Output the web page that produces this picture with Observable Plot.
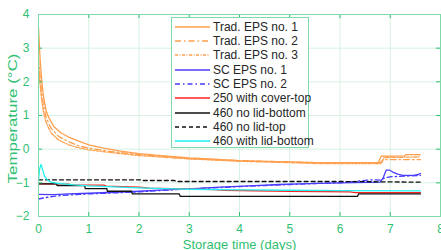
<!DOCTYPE html>
<html><head><meta charset="utf-8">
<script src="https://cdn.jsdelivr.net/npm/d3@7"></script>
<script src="https://cdn.jsdelivr.net/npm/@observablehq/plot@0.6"></script>
<style>
body{margin:0;background:#fff;font-family:"Liberation Sans",Arial,sans-serif;}
#wrap{position:relative;width:441px;height:250px;overflow:hidden;}
#legend{position:absolute;left:171px;top:17px;width:138px;height:131px;background:#fff;border:1px solid #7fd9a8;box-sizing:border-box;}
.row{position:absolute;left:0;height:14px;font-size:12px;color:#262626;line-height:14px;white-space:nowrap;}
.row svg{position:absolute;left:3px;top:0;}
.row span{position:absolute;left:41px;top:0;}
</style></head><body>
<div id="wrap"><div id="chart"></div><div id="legend"></div></div>
<script>
const seriesNames = ["Trad. EPS no. 1","Trad. EPS no. 2","Trad. EPS no. 3","SC EPS no. 1","SC EPS no. 2","250 with cover-top","460 no lid-bottom","460 no lid-top","460 with lid-bottom"];
const seriesColors = ["#ff9f4d","#ff9f4d","#ff9f4d","#4a3cff","#4a3cff","#ff2020","#111111","#111111","#1ff0f0"];
const seriesDash = [null,"6,3,1.5,3","3,1.5,1,1.5","", "5,3,1.5,3", null, null, "4,3", null];
const xTicks = [0,1,2,3,4,5,6,7,8];
const yTicks = [-2,-1,0,1,2,3,4];

const trad1 = [[0,3.62],[0.02,3.0],[0.04,2.5],[0.07,1.95],[0.1,1.55],[0.15,1.15],[0.2,0.95],[0.3,0.68],[0.45,0.48],[0.6,0.36],[0.8,0.24],[1.0,0.13],[1.3,0.03],[1.6,-0.05],[2.0,-0.13],[2.5,-0.2],[3.0,-0.26],[3.5,-0.3],[4.0,-0.34],[4.5,-0.36],[5.0,-0.38],[5.5,-0.4],[6.76,-0.4],[6.82,-0.21],[7.28,-0.2],[7.32,-0.16],[7.6,-0.16]];
const trad2 = [[0,2.7],[0.03,2.2],[0.06,1.7],[0.1,1.3],[0.15,0.95],[0.25,0.62],[0.4,0.38],[0.6,0.22],[0.8,0.1],[1.0,0.03],[1.5,-0.08],[2.0,-0.16],[2.5,-0.22],[3.0,-0.28],[4.0,-0.34],[5.0,-0.38],[5.5,-0.4],[6.8,-0.4],[6.86,-0.31],[7.6,-0.31]];
const trad3 = [[0,2.5],[0.03,1.95],[0.06,1.5],[0.1,1.1],[0.15,0.8],[0.25,0.48],[0.4,0.27],[0.6,0.13],[0.8,0.04],[1.0,-0.02],[1.5,-0.11],[2.0,-0.19],[3.0,-0.29],[4.0,-0.36],[5.0,-0.4],[5.6,-0.43],[6.82,-0.43],[6.88,-0.25],[7.6,-0.23]];
const sc1 = [[0,-1.34],[0.3,-1.35],[0.6,-1.33],[1.0,-1.31],[1.5,-1.28],[2.0,-1.25],[2.5,-1.21],[3.0,-1.18],[3.6,-1.13],[4.2,-1.09],[4.8,-1.05],[5.2,-1.03],[6.0,-1.0],[6.8,-0.98],[6.86,-0.85],[6.92,-0.62],[6.98,-0.62],[7.05,-0.68],[7.15,-0.74],[7.25,-0.78],[7.45,-0.78],[7.55,-0.76],[7.6,-0.72]];
const sc2 = [[0,-1.48],[0.1,-1.45],[0.3,-1.4],[0.6,-1.36],[1.0,-1.33],[1.5,-1.3],[2.0,-1.27],[2.5,-1.22],[3.0,-1.18],[3.5,-1.15],[4.0,-1.11],[4.5,-1.08],[5.0,-1.05],[5.5,-1.02],[6.0,-1.0],[6.4,-0.94],[6.6,-0.91],[6.8,-0.92],[6.9,-0.85],[7.0,-0.82],[7.3,-0.8],[7.6,-0.78]];
const cover250 = [[0,-1.03],[0.6,-1.04],[0.65,-1.06],[1.3,-1.07],[1.35,-1.1],[2.0,-1.13],[2.2,-1.16],[3.5,-1.2],[3.7,-1.22],[5.0,-1.25],[6.2,-1.27],[6.3,-1.29],[7.6,-1.29]];
const noLidBottom = [[0,-1.03],[0.36,-1.03],[0.37,-1.08],[0.92,-1.08],[0.93,-1.17],[1.36,-1.17],[1.37,-1.25],[1.85,-1.25],[1.87,-1.33],[2.8,-1.33],[2.82,-1.4],[6.35,-1.4],[6.37,-1.33],[7.6,-1.33]];
const noLidTop = [[0,-0.91],[2.03,-0.91],[2.05,-0.93],[2.7,-0.93],[2.75,-0.96],[6.0,-0.96],[7.6,-0.98]];
const withLidBottom = [[0,-0.95],[0.02,-0.6],[0.05,-0.45],[0.08,-0.6],[0.12,-0.8],[0.18,-0.92],[0.25,-0.98],[0.4,-1.02],[0.7,-1.06],[1.0,-1.09],[1.5,-1.12],[2.0,-1.15],[2.5,-1.17],[3.0,-1.19],[4.0,-1.21],[5.0,-1.22],[6.0,-1.23],[7.6,-1.24]];

const allSeries = [trad1,trad2,trad3,sc1,sc2,cover250,noLidBottom,noLidTop,withLidBottom];
const green = "#2fbf71";
const W = 441, H = 250, mL = 38, mR = 1, mT = 14, mB = 34;
const fw = W - mL - mR, fh = H - mT - mB;

const lineMarks = allSeries.map((s, i) => Plot.line(s, {
  x: d => d[0], y: d => d[1], stroke: seriesColors[i], strokeWidth: 1.3,
  strokeDasharray: seriesDash[i] || undefined
}));

const chart = Plot.plot({
  width: W, height: H, marginLeft: mL, marginRight: mR, marginTop: mT, marginBottom: mB,
  style: {fontFamily: '"Liberation Sans", Arial, sans-serif', background: "#fff", overflow: "visible"},
  x: {domain: [0, 8]},
  y: {domain: [-2, 4]},
  marks: [
    Plot.ruleX(xTicks, {stroke: "#d6f2e3", strokeWidth: 1}),
    Plot.ruleY(yTicks, {stroke: "#d6f2e3", strokeWidth: 1}),
    ...lineMarks,
    Plot.ruleX(xTicks, {stroke: green, insetTop: fh - 4}),
    Plot.ruleX(xTicks, {stroke: green, insetBottom: fh - 4}),
    Plot.ruleY(yTicks, {stroke: green, insetRight: fw - 4}),
    Plot.ruleY(yTicks, {stroke: green, insetLeft: fw - 4}),
    Plot.frame({stroke: "#7fd9a8"}),
    Plot.axisX(xTicks, {tickSize: 0, tickPadding: 8, fontSize: 12, color: green, label: null}),
    Plot.axisY(yTicks, {tickSize: 0, tickPadding: 9, fontSize: 12, color: green, label: null}),
    Plot.text(["Storage time (days)"], {frameAnchor: "bottom", lineAnchor: "top", dy: 23, fontSize: 13, fill: green}),
    Plot.text(["Temperature (°C)"], {frameAnchor: "left", rotate: -90, textAnchor: "start", dx: -26, dy: 68, fontSize: 13, fill: green})
  ]
});
d3.select(chart).selectAll("text").filter(function() { return this.textContent === "Temperature (°C)"; })
  .attr("textLength", 130).attr("lengthAdjust", "spacingAndGlyphs");
document.getElementById("chart").appendChild(chart);

const legend = document.getElementById("legend");
seriesNames.forEach((name, i) => {
  const row = document.createElement("div");
  row.className = "row";
  row.style.top = (1.7 + i * 14.3) + "px";
  const dash = seriesDash[i] ? ` stroke-dasharray="${seriesDash[i]}"` : "";
  row.innerHTML = `<svg width="36" height="14"><line x1="0" x2="35" y1="7" y2="7" stroke="${seriesColors[i]}" stroke-width="1.3"${dash}/></svg><span>${name}</span>`;
  legend.appendChild(row);
});
</script>
</body></html>
